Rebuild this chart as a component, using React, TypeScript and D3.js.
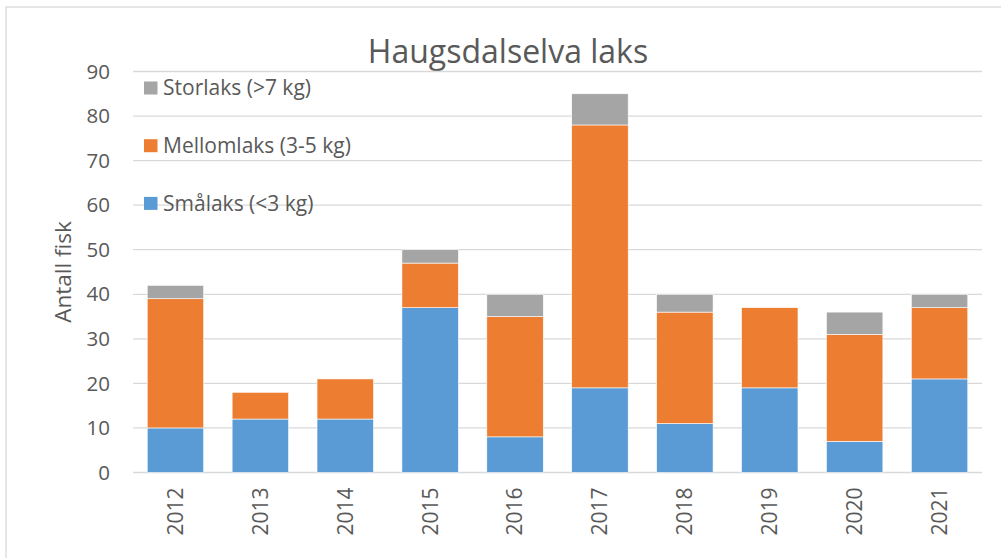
import React from "react";
import * as d3 from "d3";

const years = ["2012", "2013", "2014", "2015", "2016", "2017", "2018", "2019", "2020", "2021"];
const smalaks = [10, 12, 12, 37, 8, 19, 11, 19, 7, 21];
const mellomlaks = [29, 6, 9, 10, 27, 59, 25, 18, 24, 16];
const storlaks = [3, 0, 0, 3, 5, 7, 4, 0, 5, 3];
const yTicks = [0, 10, 20, 30, 40, 50, 60, 70, 80, 90];

const seriesNames = ["Smålaks (<3 kg)", "Mellomlaks (3-5 kg)", "Storlaks (>7 kg)"];
const colors = ["#5b9bd5", "#ed7d31", "#a5a5a5"];

const W = 1001;
const H = 558;
const margin = { top: 71.5, right: 19, bottom: 85.5, left: 133 };
const font = "'Open Sans', 'Noto Sans', sans-serif";
const textColor = "#595959";

export default function App() {
  const innerW = W - margin.left - margin.right;
  const innerH = H - margin.top - margin.bottom;

  const x = d3.scaleBand<string>().domain(years).range([0, innerW]).paddingInner(0.335).paddingOuter(0.1675);
  const y = d3.scaleLinear().domain([0, 90]).range([innerH, 0]);

  const table = years.map((yr, i) => ({ year: yr, s: smalaks[i], m: mellomlaks[i], st: storlaks[i] }));
  const stack = d3.stack<any>().keys(["s", "m", "st"])(table);

  return (
    <svg width={W} height={H} style={{ position: "absolute", left: 0, top: 0 }}>
      <rect x={6} y={7} width={W} height={H} fill="#fff" stroke="#d9d9d9" strokeWidth={1.3} />
      <text x={508} y={63} textAnchor="middle" fontFamily={font} fontSize={32} fill={textColor}>
        Haugsdalselva laks
      </text>
      <g transform={`translate(${margin.left},${margin.top})`}>
        {yTicks.map((t) => (
          <g key={t}>
            <line x1={0} x2={innerW} y1={y(t)} y2={y(t)} stroke="#d9d9d9" strokeWidth={1.3} />
            <text x={-23} y={y(t)} dy="0.35em" textAnchor="end" fontFamily={font} fontSize={20.5} fill={textColor}>
              {t}
            </text>
          </g>
        ))}
        {stack.map((layer, si) => (
          <g key={si} fill={colors[si]}>
            {layer.map((d, i) =>
              d[1] - d[0] > 0 ? (
                <rect
                  key={i}
                  x={x(years[i])}
                  width={x.bandwidth()}
                  y={y(d[1])}
                  height={y(d[0]) - y(d[1])}
                  stroke="#fff"
                  strokeWidth={0.6}
                />
              ) : null
            )}
          </g>
        ))}
        {years.map((yr) => (
          <text
            key={yr}
            transform={`translate(${(x(yr) as number) + x.bandwidth() / 2},${innerH + 15}) rotate(-90)`}
            dy="0.35em"
            textAnchor="end"
            fontFamily={font}
            fontSize={21}
            fill={textColor}
          >
            {yr}
          </text>
        ))}
        {[2, 1, 0].map((si, k) => (
          <g key={si} transform={`translate(11,${16.5 + k * 57.7})`}>
            <rect x={0} y={-6.5} width={13.5} height={13} fill={colors[si]} />
            <text x={19} y={0} dy="0.35em" fontFamily={font} fontSize={21} fill={textColor}>
              {seriesNames[si]}
            </text>
          </g>
        ))}
      </g>
      <text
        transform="translate(63,272) rotate(-90)"
        dy="0.35em"
        textAnchor="middle"
        fontFamily={font}
        fontSize={22.5}
        fill={textColor}
      >
        Antall fisk
      </text>
    </svg>
  );
}
